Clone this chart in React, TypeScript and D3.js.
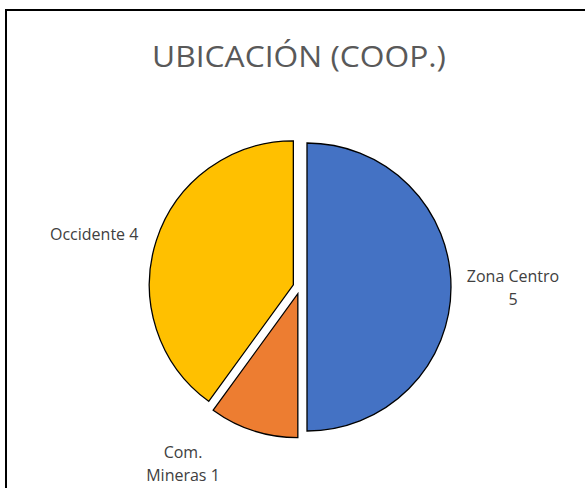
import React from "react";
import * as d3 from "d3";

const categories = ["Zona Centro", "Com. Mineras", "Occidente"];
const values = [5, 1, 4];
const colors = ["#4472C4", "#ED7D31", "#FFC000"];
const labelLines = [["Zona Centro", "5"], ["Com.", "Mineras 1"], ["Occidente 4"]];
const title = "UBICACIÓN (COOP.)";

const W = 585, H = 488;
const cx = 300, cy = 287, R = 144, explode = 7;
const font = "'Open Sans', 'Noto Sans', sans-serif";

const labelPos: [number, number, string][] = [
  [513, 282, "middle"],
  [183, 458, "middle"],
  [50, 240, "start"],
];

export default function App() {
  const pie = d3.pie<number>().sort(null).value((d) => d);
  const arcs = pie(values);
  const arc = d3.arc<d3.PieArcDatum<number>>().innerRadius(0).outerRadius(R);
  return (
    <svg width={W} height={H} style={{ position: "absolute", left: 0, top: 0, background: "#fff" }}>
      <rect x={6} y={10} width={640} height={540} fill="#fff" stroke="#000" strokeWidth={2} />
      <text x={299} y={67} textAnchor="middle" fontFamily={font} fontSize={30} fill="#595959" textLength={294} lengthAdjust="spacingAndGlyphs">
        {title}
      </text>
      {arcs.map((a, i) => {
        const mid = (a.startAngle + a.endAngle) / 2;
        const dx = Math.sin(mid) * explode;
        const dy = -Math.cos(mid) * explode;
        return (
          <path
            key={categories[i]}
            d={arc(a) || ""}
            transform={`translate(${cx + dx},${cy + dy})`}
            fill={colors[i]}
            stroke="#000"
            strokeWidth={1.3}
            strokeLinejoin="miter"
          />
        );
      })}
      {labelLines.map((lines, i) => (
        <text key={i} x={labelPos[i][0]} y={labelPos[i][1]} textAnchor={labelPos[i][2] as any} fontFamily={font} fontSize={16} fill="#404040">
          {lines.map((l, j) => (
            <tspan key={j} x={labelPos[i][0]} dy={j === 0 ? 0 : 23}>
              {l}
            </tspan>
          ))}
        </text>
      ))}
    </svg>
  );
}
